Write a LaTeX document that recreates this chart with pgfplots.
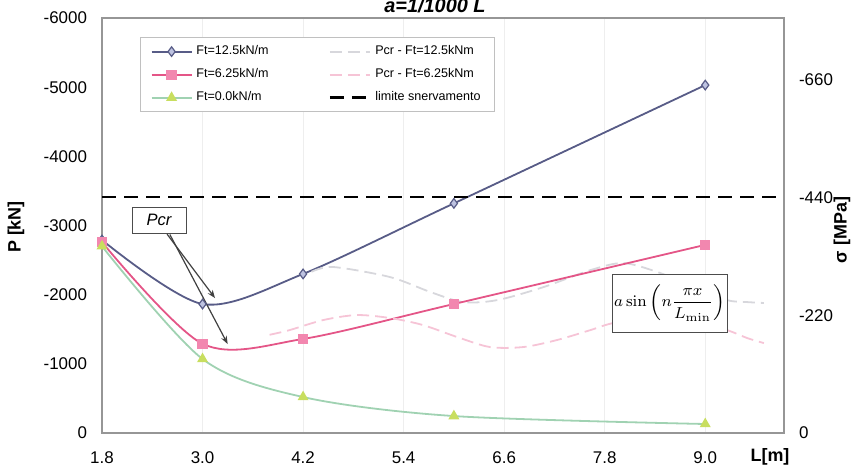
\documentclass[border=0pt]{standalone}
\usepackage{pgfplots}
\pgfplotsset{compat=1.18}
\usepackage[no-math]{fontspec}
\setmainfont{Liberation Sans}
\usetikzlibrary{arrows.meta}
\definecolor{cBlue}{RGB}{88,92,135}
\definecolor{cBlueFill}{RGB}{190,195,225}
\definecolor{cPink}{RGB}{228,85,135}
\definecolor{cPinkFill}{RGB}{242,135,175}
\definecolor{cGreen}{RGB}{160,210,178}
\definecolor{cGreenFill}{RGB}{200,222,95}
\definecolor{cPcrA}{RGB}{215,215,220}
\definecolor{cPcrB}{RGB}{246,196,214}
\definecolor{frameC}{RGB}{150,150,150}
\definecolor{gridC}{RGB}{238,238,238}
\begin{document}
\begin{tikzpicture}
\useasboundingbox (-51bp,-17.5bp) rectangle (375.5bp,216.5bp);
\begin{axis}[
  at={(0,0)}, anchor=south west,
  scale only axis, width=341bp, height=207.5bp,
  xmin=1.8, xmax=9.94, ymin=-6000, ymax=0, y dir=reverse,
  axis line style={frameC, line width=0.6bp},
  xtick={1.8,3,4.2,5.4,6.6,7.8,9},
  xticklabels={1.8,3.0,4.2,5.4,6.6,7.8,9.0},
  ytick={-6000,-5000,-4000,-3000,-2000,-1000,0},
  yticklabels={-6000,-5000,-4000,-3000,-2000,-1000,0},
  tick label style={font=\fontsize{8.5}{10}\selectfont},
  xticklabel style={yshift=-6bp},
  yticklabel style={xshift=-4bp},
  major tick length=0pt,
  xmajorgrids, grid style={gridC, line width=0.5bp},
  legend columns=2,
  legend cell align=left,
  legend style={at={(0.056,0.954)}, anchor=north west, draw=frameC!60, line width=0.5bp,
    font=\fontsize{6.3}{7.5}\selectfont, inner xsep=5bp, inner ysep=2bp, row sep=1.5bp,
    /tikz/every even column/.append style={column sep=28bp}},
  legend image code/.code={\draw[mark repeat=2,mark phase=2,#1] plot coordinates {(0bp,0bp) (10bp,0bp) (20bp,0bp)};},
]
\addplot[cBlue, line width=0.9bp, smooth, mark=diamond*, mark size=2.4bp,
  mark options={fill=cBlueFill, draw=cBlue, line width=0.6bp, solid}]
  coordinates {(1.8,-2790) (3.0,-1865) (4.2,-2300) (6.0,-3320) (9.0,-5030)};
\addlegendentry{Ft=12.5kN/m}
\addplot[cPcrA, line width=0.9bp, smooth, dash pattern=on 6bp off 3bp]
  coordinates {(4.3,-2330) (4.56,-2400) (5.24,-2254) (5.72,-2038) (6.11,-1893) (6.52,-1922) (7.07,-2110) (7.63,-2355) (8.02,-2457) (8.43,-2327) (8.85,-2120) (9.26,-1922) (9.5,-1893) (9.7,-1880)};
\addlegendentry{Pcr - Ft=12.5kNm}
\addplot[cPink, line width=0.9bp, smooth, mark=square*, mark size=2.1bp,
  mark options={fill=cPinkFill, draw=cPinkFill, solid}]
  coordinates {(1.8,-2760) (3.0,-1290) (4.2,-1360) (6.0,-1865) (9.0,-2720)};
\addlegendentry{Ft=6.25kN/m}
\addplot[cPcrB, line width=0.9bp, smooth, dash pattern=on 6bp off 3bp]
  coordinates {(3.8,-1420) (4.04,-1488) (4.44,-1633) (4.84,-1705) (5.24,-1662) (5.63,-1561) (6.04,-1387) (6.43,-1243) (6.83,-1243) (7.23,-1344) (7.63,-1488) (7.9,-1590) (8.4,-1690) (8.85,-1630) (9.26,-1488) (9.5,-1373) (9.7,-1300)};
\addlegendentry{Pcr - Ft=6.25kNm}
\addplot[cGreen, line width=0.9bp, smooth, mark=triangle*, mark size=2.3bp,
  mark options={fill=cGreenFill, draw=cGreenFill, solid}]
  coordinates {(1.8,-2700) (3.0,-1070) (4.2,-520) (6.0,-245) (9.0,-130)};
\addlegendentry{Ft=0.0kN/m}
\addplot[black, line width=1.3bp, dash pattern=on 7bp off 4bp]
  coordinates {(1.8,-3410) (9.94,-3410)};
\addlegendentry{limite snervamento}
% annotations
\node[draw=black!70, fill=white, font=\itshape\fontsize{8.3}{10}\selectfont,
  minimum width=27bp, minimum height=13bp, inner sep=1bp] at (axis cs:2.48,-3078) {Pcr};
\draw[-{Stealth[length=4bp,width=3bp]}, black!75, line width=0.6bp]
  (axis cs:2.576,-2876) -- (axis cs:3.149,-1951);
\draw[-{Stealth[length=4bp,width=3bp]}, black!75, line width=0.6bp]
  (axis cs:2.61,-2870) -- (axis cs:3.30,-1286);
\node[draw=black!70, fill=white, minimum width=55.5bp, minimum height=29bp, inner sep=1bp,
  font=\fontsize{8.5}{10}\selectfont] at (axis cs:8.576,-1879)
  {$\displaystyle a\sin\left(n\frac{\pi x}{L_{\min}}\right)$};
\end{axis}
\begin{axis}[
  at={(0,0)}, anchor=south west,
  scale only axis, width=341bp, height=207.5bp,
  xmin=1.8, xmax=9.94, ymin=-775, ymax=0, y dir=reverse,
  axis x line=none, axis y line*=right,
  axis line style={frameC, line width=0.6bp},
  ytick={-660,-440,-220,0},
  yticklabels={-660,-440,-220,0},
  tick label style={font=\fontsize{8.5}{10}\selectfont},
  yticklabel style={xshift=4bp},
  major tick length=0pt,
]
\end{axis}
\node[rotate=90, font=\bfseries\fontsize{9}{11}\selectfont] at (-43bp,103bp) {P [kN]};
\node[rotate=90, font=\bfseries\fontsize{9}{11}\selectfont] at (370bp,101.5bp) {σ [MPa]};
\node[font=\bfseries\fontsize{9}{11}\selectfont] at (334bp,-12bp) {L[m]};
\node[font=\bfseries\itshape\fontsize{10}{12}\selectfont] at (166.5bp,214bp) {a=1/1000 L};
\end{tikzpicture}
\end{document}
